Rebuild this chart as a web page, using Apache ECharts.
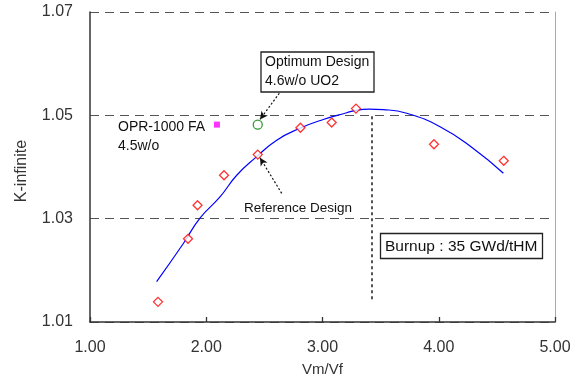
<!DOCTYPE html>
<html><head><meta charset="utf-8">
<script src="https://cdn.jsdelivr.net/npm/echarts@6/dist/echarts.min.js"></script>
<style>html,body{margin:0;padding:0;background:#fff;overflow:hidden}#c{width:577px;height:379px}</style>
</head><body><div id="c"></div>
<script>
// measured points (Vm/Vf, K-infinite)
const measX = [1.585, 1.843, 1.925, 2.153, 2.443, 2.810, 3.079, 3.288, 3.959, 4.559];
const measY = [1.0139, 1.0261, 1.0326, 1.0384, 1.0424, 1.0476, 1.0486, 1.0513, 1.0444, 1.0412];
// fitted curve
const fitX = [1.573, 1.803, 1.946, 2.118, 2.262, 2.434, 2.606, 2.806, 3.007, 3.208, 3.294, 3.400, 3.523, 3.724, 4.011, 4.297, 4.556];
const fitY = [1.0178, 1.0252, 1.0301, 1.0342, 1.0384, 1.0420, 1.0452, 1.0475, 1.0492, 1.0505, 1.0510, 1.0512, 1.0511, 1.0504, 1.0478, 1.0436, 1.0388];
const optimum = [2.443, 1.0482];
const opr1000 = [2.092, 1.0482];
const burnupLine = [[3.423, 1.0498], [3.423, 1.0142]];
const optArrow = [[2.649, 1.0549], [2.462, 1.0492]];
const refArrow = [[2.649, 1.0349], [2.462, 1.0418]];
const xTicks = [1, 5, 1];
const yTicks = [1.01, 1.07, 0.02];

const zip = (a, b) => a.map((v, i) => [v, b[i]]);
const FONT = 'Liberation Sans, Arial, sans-serif';
const chart = echarts.init(document.getElementById('c'), null, {renderer: 'canvas', width: 577, height: 379});
const dashed = {color: '#555', type: [9, 6], width: 1};
chart.setOption({
  animation: false,
  grid: {left: 90, right: 22, top: 12, bottom: 57, containLabel: false, outerBoundsMode: 'none'},
  xAxis: {
    type: 'value', min: xTicks[0], max: xTicks[1], interval: xTicks[2],
    name: 'Vm/Vf', nameLocation: 'middle', nameGap: 40,
    nameTextStyle: {fontFamily: FONT, fontSize: 15, color: '#333'},
    axisLine: {lineStyle: {color: '#333', width: 1.5}},
    axisTick: {inside: true, length: 5, lineStyle: {color: '#333', width: 1.3}},
    axisLabel: {fontFamily: FONT, fontSize: 16, color: '#333', margin: 18, formatter: v => v.toFixed(2)},
    splitLine: {show: false}
  },
  yAxis: [{
    type: 'value', min: yTicks[0], max: yTicks[1], interval: yTicks[2],
    name: 'K-infinite', nameLocation: 'middle', nameGap: 60,
    nameTextStyle: {fontFamily: FONT, fontSize: 16, color: '#333', padding: [0, 8, 0, 0]},
    axisLine: {show: true, lineStyle: {color: '#333', width: 1.5}},
    axisTick: {show: false},
    axisLabel: {fontFamily: FONT, fontSize: 16, color: '#333', margin: 17, formatter: v => v.toFixed(2)},
    splitLine: {show: true, lineStyle: dashed}
  }, {
    type: 'value', min: yTicks[0], max: yTicks[1], interval: yTicks[2], position: 'right',
    axisLine: {show: true, lineStyle: {color: '#aaa', width: 1}},
    axisTick: {show: false}, axisLabel: {show: false}, splitLine: {show: false}
  }],
  series: [
    {
      type: 'line', data: zip(fitX, fitY), showSymbol: false, smooth: true,
      lineStyle: {color: '#0000ff', width: 1.2}, z: 2,
      markLine: {
        silent: true, symbol: ['none', 'none'], label: {show: false},
        lineStyle: {color: '#555', type: [3, 3], width: 2},
        data: [[{coord: burnupLine[0]}, {coord: burnupLine[1]}]]
      }
    },
    {
      type: 'scatter', data: zip(measX, measY), symbol: 'diamond', symbolSize: 9,
      itemStyle: {color: '#fff', borderColor: '#ff0000', borderWidth: 1.3}, z: 3,
      markLine: {
        silent: true, symbol: ['none', 'arrow'], symbolSize: [6, 8], label: {show: false},
        lineStyle: {color: '#111', type: [2, 2], width: 1.2},
        data: [
          [{coord: optArrow[0]}, {coord: optArrow[1]}],
          [{coord: refArrow[0]}, {coord: refArrow[1]}]
        ]
      }
    },
    {
      type: 'scatter', data: [optimum], symbol: 'circle', symbolSize: 9,
      itemStyle: {color: '#fff', borderColor: '#008000', borderWidth: 1.3}, z: 3
    },
    {
      type: 'scatter', data: [opr1000], symbol: 'rect', symbolSize: 6,
      itemStyle: {color: '#ff00ff'}, z: 3
    }
  ],
  graphic: [
    {type: 'rect', shape: {x: 261, y: 52, width: 113, height: 40}, style: {fill: '#fff', stroke: '#222', lineWidth: 1.3}, z: 10},
    {type: 'text', x: 265, y: 62, style: {text: 'Optimum Design', font: '14px ' + FONT, fill: '#111', verticalAlign: 'middle'}, z: 11},
    {type: 'text', x: 265, y: 81, style: {text: '4.6w/o UO2', font: '14px ' + FONT, fill: '#111', verticalAlign: 'middle'}, z: 11},
    {type: 'text', x: 118, y: 127, style: {text: 'OPR-1000 FA', font: '14px ' + FONT, fill: '#111', verticalAlign: 'middle'}, z: 11},
    {type: 'text', x: 118, y: 146, style: {text: '4.5w/o', font: '14px ' + FONT, fill: '#111', verticalAlign: 'middle'}, z: 11},
    {type: 'text', x: 244, y: 208, style: {text: 'Reference Design', font: '13.5px ' + FONT, fill: '#111', verticalAlign: 'middle'}, z: 11},
    {type: 'rect', shape: {x: 380.5, y: 233.5, width: 162, height: 25}, style: {fill: '#fff', stroke: '#222', lineWidth: 1.3}, z: 10},
    {type: 'text', x: 385, y: 247, style: {text: 'Burnup : 35 GWd/tHM', font: '15.5px ' + FONT, fill: '#111', verticalAlign: 'middle'}, z: 11}
  ]
});
</script></body></html>
